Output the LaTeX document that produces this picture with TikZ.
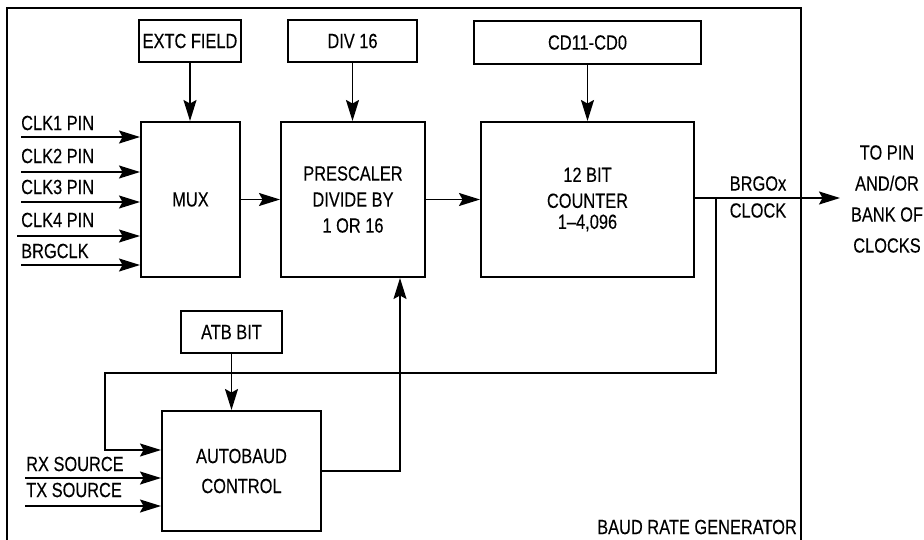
\documentclass[tikz,border=0pt]{standalone}
\usepackage{fontspec}
\setmainfont[FakeStretch=0.8,FakeBold=0.2]{Liberation Sans}
\usetikzlibrary{arrows.meta,calc}
\tikzset{
  blk/.style={draw, line width=2pt, inner sep=0pt, align=center},
  arr/.style={line width=1.6pt, -{Stealth[length=21pt,width=13pt,inset=3.5pt]}},
  lbl/.style={inner sep=0pt, align=center},
  lbw/.style={inner sep=0pt, anchor=west},
}
\begin{document}
\begin{tikzpicture}[x=1pt,y=-1pt,font=\fontsize{20.5}{26}\selectfont]
\useasboundingbox (0,0) rectangle (924,539);
% outer frame
\coordinate (f1) at (7,545);
\coordinate (f2) at (7,8);
\coordinate (f3) at (801,8);
\coordinate (f4) at (801,545);
\draw[line width=1.8pt] (f1) -- (f2) -- (f3) -- (f4);

% boxes
\node[blk, minimum width=102pt, minimum height=42pt] (extc) at (190,41) {EXTC FIELD};
\node[blk, minimum width=129pt, minimum height=42pt] (div) at (352.5,41) {DIV 16};
\node[blk, minimum width=227pt, minimum height=43pt] (cd) at (587.5,42.5) {CD11-CD0};
\node[blk, minimum width=99pt, minimum height=155pt] (mux) at (190.5,199.5) {MUX};
\node[blk, minimum width=144pt, minimum height=155pt] (pre) at (353,199.5) {PRESCALER\\DIVIDE BY\\1 OR 16};
\node[blk, minimum width=213pt, minimum height=155pt] (cnt) at (587.5,199.5) {12 BIT\\COUNTER\\[-5pt]1–4,096};
\node[blk, minimum width=101pt, minimum height=42pt] (atb) at (231.5,332) {ATB BIT};
\node[blk, minimum width=159pt, minimum height=120pt] (auto) at (241.5,471) {AUTOBAUD\\[4pt]CONTROL};

% top arrows
\draw[arr] (extc.south) -- (extc.south |- mux.north);
\draw[arr] (div.south) -- (div.south |- pre.north);
\draw[arr] (cd.south) -- (cd.south |- cnt.north);
\draw[arr] (atb.south) -- (atb.south |- auto.north);

% data path
\draw[arr] (mux.east) -- (pre.west);
\draw[arr] (pre.east) -- (cnt.west);
\coordinate (outend) at (840,198);
\coordinate (br) at (716,198);
\draw[arr] (cnt.east |- outend) -- (outend);

% feedback
\coordinate (fb1) at (716,373);
\coordinate (fb2) at (105,373);
\coordinate (fb3) at (105,450);
\draw[arr] (br) -- (fb1) -- (fb2) -- (fb3) -- (auto.west |- fb3);

% autobaud to prescaler
\coordinate (up) at (400,471);
\draw[arr] (auto.east |- up) -- (up) -- (up |- pre.south);

% inputs
\coordinate (i1) at (21,137);
\coordinate (i2) at (21,172);
\coordinate (i3) at (21,202);
\coordinate (i4) at (17,236);
\coordinate (i5) at (21,265);
\foreach \c in {i1,i2,i3,i4,i5} \draw[arr] (\c) -- (mux.west |- \c);
\coordinate (rx) at (25,478);
\coordinate (tx) at (25,506);
\draw[arr] (rx) -- (auto.west |- rx);
\draw[arr] (tx) -- (auto.west |- tx);

% labels
\node[lbw] (l1) at (21,123) {CLK1 PIN};
\node[lbw] (l2) at (21,156) {CLK2 PIN};
\node[lbw] (l3) at (21,187) {CLK3 PIN};
\node[lbw] (l4) at (21,220) {CLK4 PIN};
\node[lbw] (l5) at (21,251) {BRGCLK};
\node[lbw] (lrx) at (26,464) {RX SOURCE};
\node[lbw] (ltx) at (26,490) {TX SOURCE};
\node[lbl] (brgo) at (758,197) {BRGOx\\[1pt]CLOCK};
\node[lbl] (topin) at (887,199) {TO PIN\\[5pt]AND/OR\\[5pt]BANK OF\\[5pt]CLOCKS};
\node[inner sep=0pt, anchor=east] (brg) at (797,527) {BAUD RATE GENERATOR};
\end{tikzpicture}
\end{document}
